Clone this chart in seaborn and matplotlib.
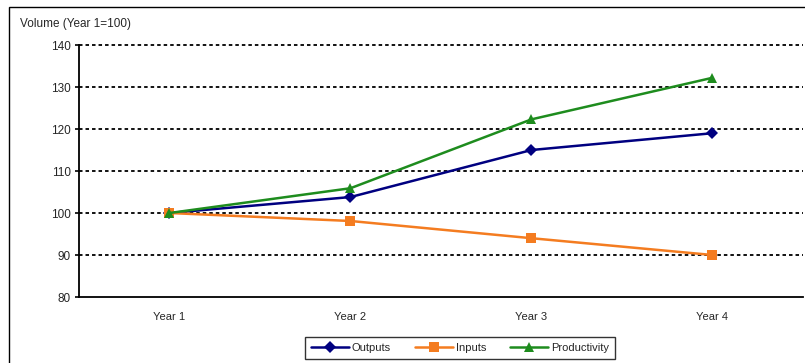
import matplotlib
matplotlib.use("Agg")
import matplotlib.pyplot as plt
import seaborn as sns
import pandas as pd
from matplotlib.patches import Rectangle

# Volume indices, Year 1 = 100
years = ["Year 1", "Year 2", "Year 3", "Year 4"]
outputs = [100, 103.8, 115.0, 119.0]
inputs = [100, 98.1, 94.0, 90.0]
productivity = [100, 105.9, 122.3, 132.2]
series_names = ["Outputs", "Inputs", "Productivity"]
y_ticks = [80, 90, 100, 110, 120, 130, 140]

df = pd.DataFrame({
    "Year": years * 3,
    "Volume": outputs + inputs + productivity,
    "Series": [s for s in series_names for _ in years],
})

sns.set_theme(style="white")
plt.rcParams["font.family"] = ["Liberation Sans", "DejaVu Sans"]

fig = plt.figure(figsize=(8.05, 3.63), dpi=100)
ax = fig.add_axes([0.0981, 0.1818, 0.8994, 0.6942])

palette = {"Outputs": "#000080", "Inputs": "#F47C20", "Productivity": "#1E8C1E"}
markers = {"Outputs": "D", "Inputs": "s", "Productivity": "^"}

sns.lineplot(
    data=df, x="Year", y="Volume", hue="Series", style="Series",
    palette=palette, markers=markers, dashes=False, sort=False,
    linewidth=1.8, markersize=6.5, markeredgewidth=0, ax=ax,
)

ax.set_xlim(-0.5, 3.5)
ax.set_ylim(80, 140)
ax.set_yticks(y_ticks)
ax.set_xticks(range(len(years)))
ax.set_xticklabels(years)
ax.set_xlabel("")
ax.set_ylabel("")

for v in y_ticks[1:]:
    ax.axhline(v, color="#111111", linestyle=(0, (1.8, 1.55)), linewidth=1.4,
               zorder=0.5, clip_on=False)

for side in ["top", "right"]:
    ax.spines[side].set_visible(False)
ax.spines["left"].set_color("black")
ax.spines["bottom"].set_color("black")
ax.spines["left"].set_linewidth(1.3)
ax.spines["bottom"].set_linewidth(1.3)

ax.tick_params(axis="y", direction="out", length=3, width=1.2, color="black",
               labelsize=8.5, pad=3, left=True)
ax.tick_params(axis="x", length=0, labelsize=8, pad=11)

fig.text(0.025, 0.935, "Volume (Year 1=100)", fontsize=8.5, ha="left", va="center")

handles, labels = ax.get_legend_handles_labels()
leg = fig.legend(handles, labels, loc="center", bbox_to_anchor=(0.5714, 0.042),
                 ncol=3, frameon=True, fontsize=8, handlelength=3.4,
                 handletextpad=0.25, columnspacing=2.2, borderpad=0.55,
                 fancybox=False, edgecolor="black")
leg.get_frame().set_linewidth(1.0)
ax.get_legend().remove()

# chart area border, extending past the right and bottom edges
fig.patches.append(Rectangle((9 / 805, -0.05), 1.2, 1 - 7 / 363 + 0.05,
                             transform=fig.transFigure, fill=False,
                             edgecolor="black", linewidth=1.0, zorder=0))

fig.savefig("out.png", dpi=100)
